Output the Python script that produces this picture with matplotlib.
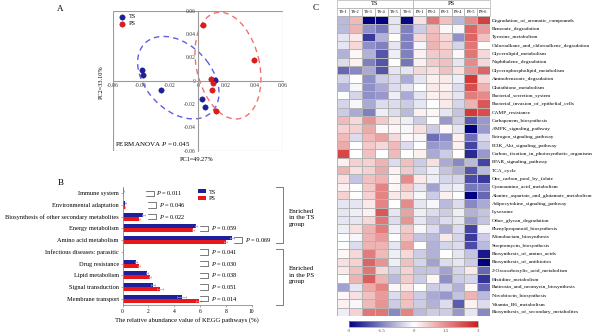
import numpy as np
import matplotlib
matplotlib.use("Agg")
import matplotlib.pyplot as plt
from matplotlib.patches import Ellipse, Rectangle
from matplotlib.colors import LinearSegmentedColormap

plt.rcParams['font.family'] = ['Liberation Serif', 'DejaVu Serif']
plt.rcParams['mathtext.fontset'] = 'custom'
plt.rcParams['mathtext.rm'] = 'Liberation Serif'
plt.rcParams['mathtext.it'] = 'Liberation Serif:italic'

# ---------------- A: PCoA ----------------
ts_pc1 = [-0.0395, -0.039, -0.026, 0.012, 0.003, 0.005]
ts_pc2 = [0.0089, 0.0046, -0.0083, 0.0003, -0.0154, -0.0229]
ps_pc1 = [0.004, 0.040, 0.0092, 0.0106, 0.0101, 0.0127]
ps_pc2 = [0.048, 0.0174, 0.0014, -0.0023, -0.0077, -0.026]
# ellipse centre and shape matrix (data units)
ts_centre = (-0.0137, 0.0026)
ts_shape = [[8.27e-4, -3.75e-4], [-3.75e-4, 1.25e-3]]
ps_centre = (0.0214, 0.0129)
ps_shape = [[5.43e-4, -2.58e-4], [-2.58e-4, 2.09e-3]]
pc_ticks = [-0.06, -0.04, -0.02, 0, 0.02, 0.04, 0.06]
pc_ticklabels = ['-0.06', '-0.04', '-0.02', '0', '0.02', '0.04', '0.06']

# ---------------- B: KEGG level 2 ----------------
kegg_names = ['Immune system', 'Environmental adaptation',
              'Biosynthesis of other secondary metabolites', 'Energy metabolism',
              'Amino acid metabolism', 'Infectious diseases: parasitic',
              'Drug resistance', 'Lipid metabolism', 'Signal transduction',
              'Membrane transport']
ts_abund = [0.08, 0.22, 1.6, 5.7, 8.45, 0.02, 1.05, 1.9, 2.33, 4.57]
ps_abund = [0.05, 0.18, 1.3, 5.47, 8.0, 0.02, 1.25, 2.15, 2.9, 5.9]
ts_err = [0.02, 0.03, 0.1, 0.1, 0.15, 0.01, 0.05, 0.06, 0.15, 0.35]
ps_err = [0.02, 0.03, 0.06, 0.08, 0.1, 0.01, 0.07, 0.08, 0.25, 0.2]
p_values = ['0.011', '0.046', '0.022', '0.059', '0.069',
            '0.041', '0.030', '0.038', '0.051', '0.014']
bracket_x = [1.8, 2.0, 2.0, 6.0, 8.66, 6.0, 6.0, 6.0, 6.0, 6.0]

# ---------------- C: heatmap ----------------
sample_names = ['TS-1', 'TS-2', 'TS-3', 'TS-4', 'TS-5', 'TS-6',
                'PS-1', 'PS-2', 'PS-3', 'PS-4', 'PS-5', 'PS-6']
group_names = ['TS', 'PS']
pathway_names = [
    'Degradation_of_aromatic_compounds', 'Benzoate_degradation',
    'Tyrosine_metabolism', 'Chloroalkane_and_chloroalkene_degradation',
    'Glycerolipid_metabolism', 'Naphthalene_degradation',
    'Glycerophospholipid_metabolism', 'Aminobenzoate_degradation',
    'Glutathione_metabolism', 'Bacterial_secretion_system',
    'Bacterial_invasion_of_epithelial_cells', 'CAMP_resistance',
    'Carbapenem_biosynthesis', 'AMPK_signaling_pathway',
    'Estrogen_signaling_pathway', 'PI3K_Akt_signaling_pathway',
    'Carbon_fixation_in_photosynthetic_organisms', 'PPAR_signaling_pathway',
    'TCA_cycle', 'One_carbon_pool_by_folate', 'Cyanoamino_acid_metabolism',
    'Alanine_aspartate_and_glutamate_metabolism',
    'Adipocytokine_signaling_pathway', 'Lysosome', 'Other_glycan_degradation',
    'Phenylpropanoid_biosynthesis', 'Monobactam_biosynthesis',
    'Streptomycin_biosynthesis', 'Biosynthesis_of_amino_acids',
    'Biosynthesis_of_antibiotics', '2-Oxocarboxylic_acid_metabolism',
    'Histidine_metabolism', 'Butirosin_and_neomycin_biosynthesis',
    'Novobiocin_biosynthesis', 'Vitamin_B6_metabolism',
    'Biosynthesis_of_secondary_metabolites']
ts_z = [
    [-0.8, 0.9, -3.0, -3.0, -0.3, -2.9],
    [-0.8, 1.0, -1.3, -1.6, -0.3, -1.5],
    [-0.3, 0.3, -2.3, -0.9, 0.0, -1.5],
    [-0.3, 0.5, -1.3, -1.5, -0.3, -1.5],
    [-0.9, 0.1, -0.9, -2.0, -0.2, -1.5],
    [-0.4, 0.2, -1.5, -2.0, 0.0, -1.6],
    [-1.8, -1.4, -1.0, -2.0, -0.3, -0.3],
    [-0.5, 0.0, -1.3, -0.6, -0.4, -1.0],
    [-0.9, -0.1, -1.3, -1.0, -0.4, -0.3],
    [0.0, -0.5, -1.3, -1.2, -0.2, -1.0],
    [-0.5, -0.1, -1.0, -0.4, -0.4, -0.6],
    [-0.6, -1.0, -1.5, -0.2, -0.4, -0.8],
    [0.9, 0.5, 1.4, 0.7, 0.3, -0.2],
    [0.6, 0.6, 1.1, 0.1, 0.1, -0.1],
    [0.9, -0.4, 0.9, 1.2, 0.5, 0.1],
    [1.1, 0.0, 0.7, 0.5, 0.9, -0.4],
    [2.4, 0.0, 0.8, 0.0, 0.9, 0.0],
    [0.2, 0.6, 0.6, 1.0, -0.4, 0.8],
    [1.0, 0.4, 0.6, 1.1, 0.2, 0.7],
    [0.4, -0.7, 0.8, 1.0, 0.1, 1.5],
    [0.2, 0.0, 0.7, 1.6, 0.1, 0.7],
    [0.6, 0.0, 0.6, 1.6, 0.3, 0.4],
    [-0.3, -0.3, 0.3, 1.6, 0.0, 1.5],
    [-0.3, -0.2, 0.2, 2.2, -0.3, 1.2],
    [-0.3, -0.3, 0.5, 1.8, -0.4, 1.4],
    [-0.2, 0.4, 1.0, 1.7, -0.2, 0.7],
    [0.0, -0.1, 1.0, 1.3, 0.0, 0.8],
    [0.0, -0.4, 1.0, 1.0, -0.3, 1.2],
    [0.1, 0.5, 1.7, 0.9, -0.2, 0.5],
    [0.4, 0.6, 2.0, 1.4, -0.2, 0.8],
    [0.3, 0.8, 1.8, 0.5, -0.5, 0.6],
    [0.0, 1.0, 2.1, 1.0, -0.8, 0.7],
    [-1.1, -0.3, 1.1, 1.6, 0.1, 0.3],
    [0.1, 0.4, 0.8, 1.3, -0.4, 0.8],
    [0.2, -0.1, 0.9, 1.4, -0.6, 0.8],
    [-0.2, 0.6, 1.8, 1.8, -1.4, 1.6]]
ps_z = [
    [0.4, 1.8, 0.8, -0.8, 1.5, 2.5],
    [-0.6, 0.8, 0.1, -0.1, 2.0, 1.3],
    [0.5, 0.9, 0.5, -1.3, 2.0, 0.8],
    [-0.1, 1.0, 0.6, -0.5, 1.8, 0.0],
    [0.2, 0.7, 0.7, 0.1, 1.8, 0.5],
    [0.2, 0.7, 0.8, -0.3, 1.5, 0.5],
    [0.5, 0.4, 0.8, 0.4, 1.4, 2.0],
    [-0.3, 0.2, 0.3, -0.2, 2.6, 0.5],
    [0.0, 0.3, 0.2, -0.4, 2.3, 1.0],
    [-0.3, 0.2, 0.3, -0.3, 1.7, 1.5],
    [-0.3, 0.0, 0.3, -0.5, 1.0, 2.2],
    [0.2, 0.1, -0.3, -0.7, 2.6, 2.3],
    [-0.6, 0.0, -1.2, -0.6, -1.9, -1.2],
    [0.4, -0.6, 0.1, -0.3, -3.0, -1.2],
    [-0.1, -1.7, -1.4, 0.2, -1.7, -0.4],
    [0.0, -1.2, -1.1, 0.2, -2.2, -0.6],
    [0.2, -1.0, -0.6, 0.0, -2.5, -1.2],
    [-0.6, 0.4, -1.0, -1.4, -0.8, -2.2],
    [-0.5, -0.2, -0.7, -1.0, -2.0, -0.8],
    [0.3, -0.2, -0.5, -0.5, -2.1, -2.3],
    [-0.3, -1.1, -0.3, -0.2, -1.6, -1.5],
    [-0.1, -0.6, 0.2, 0.0, -3.0, -1.8],
    [-0.3, -0.1, -0.8, -0.4, -1.4, -1.0],
    [-0.2, -0.4, -0.6, -0.2, -0.9, -0.7],
    [-0.3, -0.7, -0.4, -0.3, -1.2, -0.7],
    [-0.1, -0.4, -1.0, -0.4, -2.2, -0.1],
    [-0.7, -0.8, 0.3, -0.5, -2.3, -0.6],
    [0.0, -0.9, -0.5, -0.4, -2.1, -0.8],
    [-0.6, -0.9, 0.0, -0.3, -0.7, -2.7],
    [-0.5, -1.1, -0.4, -0.3, -0.6, -3.0],
    [-0.7, -0.7, -1.1, -0.5, 0.3, -1.8],
    [-0.6, 0.1, -1.3, -0.6, -0.5, -2.4],
    [0.0, -0.6, -0.5, -0.9, 0.1, -1.8],
    [-0.6, -1.0, -1.2, -0.7, 1.0, -0.8],
    [-0.6, -0.9, -0.4, -1.9, 0.2, -0.4],
    [-0.8, -0.6, -0.6, -1.2, -0.3, -1.4]]

ts_col = '#1f1f9c'
ps_col = '#e81818'

fig = plt.figure(figsize=(6, 3.36), dpi=100)

# ================= panel A =================
ax = fig.add_axes([0.188, 0.5515, 0.283, 0.4167])
ax.set_xlim(-0.06, 0.06)
ax.set_ylim(-0.06, 0.06)
for centre, shape, col in [(ts_centre, ts_shape, '#5f5fe6'), (ps_centre, ps_shape, '#f47070')]:
    vals, vecs = np.linalg.eigh(np.array(shape))
    ang = np.degrees(np.arctan2(vecs[1, 1], vecs[0, 1]))
    ax.add_patch(Ellipse(centre, 2 * np.sqrt(vals[1]), 2 * np.sqrt(vals[0]), angle=ang,
                         fill=False, ec=col, lw=1.0, ls=(0, (4, 3)), zorder=2))
ax.scatter(ts_pc1, ts_pc2, s=15, color=ts_col, edgecolors='#12126a', linewidths=0.3, zorder=3, label='TS')
ax.scatter(ps_pc1, ps_pc2, s=15, color=ps_col, edgecolors='#a00c0c', linewidths=0.3, zorder=3, label='PS')
ax.spines['left'].set_position(('data', 0))
ax.spines['bottom'].set_position(('data', 0))
ax.spines['top'].set_visible(False)
ax.spines['right'].set_visible(False)
for s in ['left', 'bottom']:
    ax.spines[s].set_color('#9a9a9a')
    ax.spines[s].set_linewidth(0.8)
ax.add_patch(Rectangle((0, 0), 1, 1, transform=ax.transAxes, fill=False, ec='#9a9a9a', lw=0.8))
ax.set_xticks(pc_ticks, pc_ticklabels)
ax.set_yticks(pc_ticks, pc_ticklabels)
ax.tick_params(length=0, labelsize=4, pad=1.5, colors='#333333')
ax.text(0.496, -0.066, 'PC1=49.27%', transform=ax.transAxes, ha='center', va='center', fontsize=4.5)
ax.text(-0.065, 0.49, 'PC2=33.10%', transform=ax.transAxes, ha='center', va='center',
        rotation=90, fontsize=4.5)
ax.text(0.012, 0.045, 'PERMANOVA $P$ = 0.045', transform=ax.transAxes, ha='left', va='center', fontsize=5)
ax.legend(loc='upper left', frameon=False, fontsize=4.5, handletextpad=0.0, borderaxespad=0.3,
          labelspacing=0.3, borderpad=0.2)
fig.text(0.1, 0.973, 'A', fontsize=6.5, ha='center', va='center')

# ================= panel B =================
ax = fig.add_axes([0.2043, 0.0923, 0.215, 0.350])
y = np.arange(len(kegg_names))
ax.barh(y - 0.17, ts_abund, height=0.34, color=ts_col, xerr=ts_err, label='TS',
        error_kw=dict(ecolor='#9a9ae8', lw=0.5, capsize=1, capthick=0.5))
ax.barh(y + 0.17, ps_abund, height=0.34, color=ps_col, xerr=ps_err, label='PS',
        error_kw=dict(ecolor='#f29090', lw=0.5, capsize=1, capthick=0.5))
ax.set_xlim(0, 10)
ax.set_ylim(9.54, -0.51)
ax.set_yticks(y, kegg_names)
ax.set_xticks([0, 2, 4, 6, 8, 10])
ax.spines['top'].set_visible(False)
ax.spines['right'].set_visible(False)
for s in ['left', 'bottom']:
    ax.spines[s].set_color('#8a8a8a')
    ax.spines[s].set_linewidth(0.6)
ax.tick_params(axis='y', length=1.2, width=0.5, labelsize=4.6, pad=1.5, colors='#8a8a8a', labelcolor='black')
ax.tick_params(axis='x', length=1.5, width=0.5, labelsize=4, pad=1.5, colors='#8a8a8a', labelcolor='black')
ax.set_xlabel('The relative abundance value of KEGG pathways (%)', fontsize=4.8, labelpad=2)
w = 0.62
for i in range(len(kegg_names)):
    x0 = bracket_x[i]
    ax.plot([x0, x0 + w, x0 + w, x0], [i - 0.23, i - 0.23, i + 0.23, i + 0.23],
            color='#444444', lw=0.5, clip_on=False)
    ax.text(x0 + w + 0.2, i, '$P$ = ' + p_values[i], va='center', ha='left', fontsize=4.6)
for y0, y1, grp, ty in [(-0.51, 4.2, 'TS', 2.1), (4.78, 9.54, 'PS', 7.0)]:
    ax.plot([11.9, 12.45, 12.45, 11.9], [y0, y0, y1, y1], color='#666666', lw=0.6, clip_on=False)
    ax.text(12.9, ty, 'Enriched\nin the ' + grp + '\ngroup', ha='left', va='center',
            fontsize=5, linespacing=1.4)
ax.legend(loc='upper left', bbox_to_anchor=(0.54, 1.03), frameon=False, fontsize=4.5,
          handlelength=1.3, handleheight=0.55, handletextpad=0.5, labelspacing=0.25)
fig.text(0.102, 0.455, 'B', fontsize=6.5, ha='center', va='center')

# ================= panel C =================
ax = fig.add_axes([0.561, 0.0595, 0.2555, 0.893])
z = np.hstack([np.array(ts_z), np.array(ps_z)])
cmap = LinearSegmentedColormap.from_list('navy_red', ['#000080', '#ffffff', '#cc1a1a'])
mesh = ax.pcolormesh(z, cmap=cmap, vmin=-3, vmax=3, edgecolors='#b4b4b4', linewidth=0.5)
ax.set_xlim(0, 12)
ax.set_ylim(36, 0)
ax.yaxis.tick_right()
ax.set_yticks(np.arange(36) + 0.5, pathway_names)
ax.set_xticks([])
ax.tick_params(length=0, pad=1.2, labelsize=3.9)
for s in ax.spines.values():
    s.set_visible(False)
for j, name in enumerate(sample_names):
    ax.add_patch(Rectangle((j, -1), 1, 1, fill=False, ec='#b4b4b4', lw=0.5, clip_on=False))
    ax.text(j + 0.5, -0.5, name, ha='center', va='center', fontsize=3.2)
for g, name in enumerate(group_names):
    ax.add_patch(Rectangle((6 * g, -1.9), 6, 0.9, fill=False, ec='#b4b4b4', lw=0.5, clip_on=False))
    ax.text(6 * g + 3, -1.45, name, ha='center', va='center', fontsize=4.6)
fig.text(0.526, 0.975, 'C', fontsize=6.5, ha='center', va='center')

cax = fig.add_axes([0.582, 0.026, 0.215, 0.019])
cb = fig.colorbar(mesh, cax=cax, orientation='horizontal', ticks=[-3, -1.5, 0, 1.5, 3])
cb.ax.set_xticklabels(['-3', '-1.5', '0', '1.5', '3'])
cb.ax.tick_params(labelsize=3.5, length=0, pad=1, labelcolor='#555555')
cb.outline.set_edgecolor('#999999')
cb.outline.set_linewidth(0.5)

fig.savefig('out.png', dpi=100)
